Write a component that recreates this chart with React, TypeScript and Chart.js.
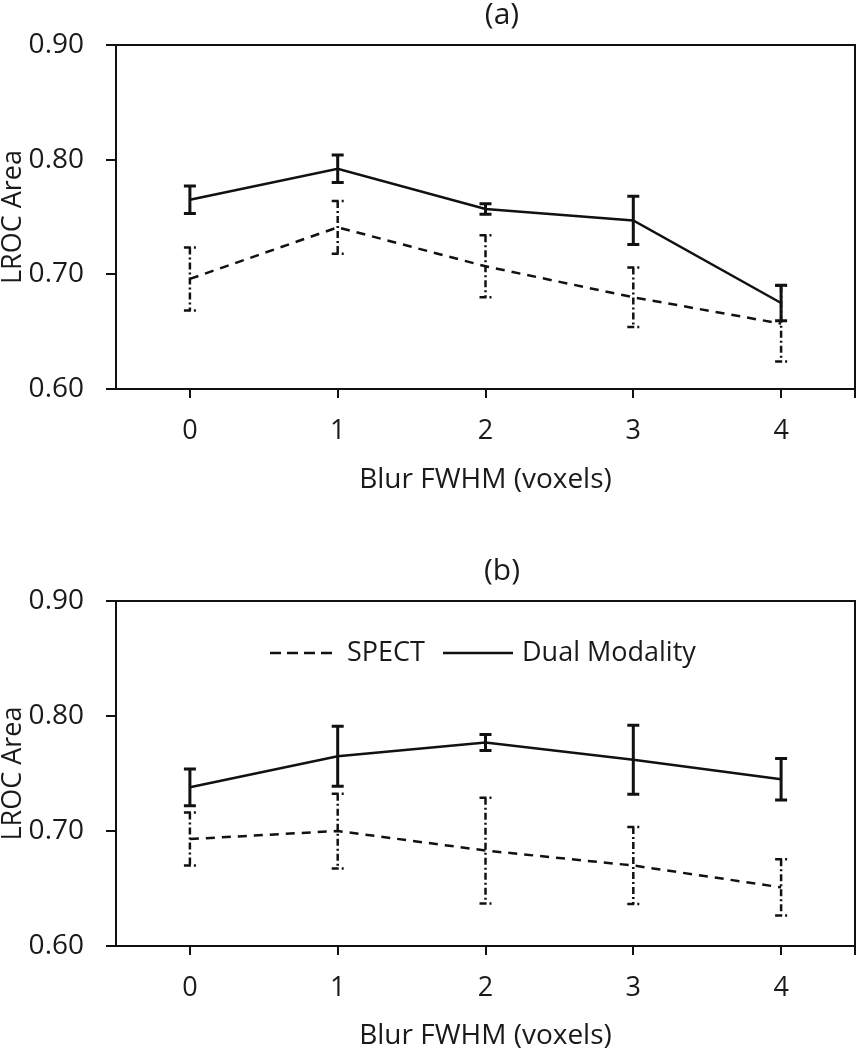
import React, { useEffect, useRef } from "react";
import { Chart, registerables } from "chart.js";

Chart.register(...registerables);

// ---- data ----
const blurLabels = ["0", "1", "2", "3", "4"];
const yTickValues = [0.6, 0.7, 0.8, 0.9];

const spectA = [0.696, 0.741, 0.707, 0.680, 0.657];
const spectAErr = [0.0275, 0.023, 0.027, 0.026, 0.033];
const dualA = [0.765, 0.792, 0.757, 0.747, 0.675];
const dualAErr = [0.012, 0.012, 0.0045, 0.021, 0.0155];

const spectB = [0.693, 0.700, 0.683, 0.670, 0.651];
const spectBErr = [0.023, 0.0325, 0.046, 0.0335, 0.0245];
const dualB = [0.738, 0.765, 0.777, 0.762, 0.745];
const dualBErr = [0.016, 0.026, 0.007, 0.030, 0.018];

const seriesNames = ["SPECT", "Dual Modality"];
const panelTitles = ["(a)", "(b)"];
const xTitle = "Blur FWHM (voxels)";
const yTitle = "LROC Area";

const FONT = "'Open Sans', 'Noto Sans', sans-serif";
const TEXT = "#1a1a1a";
const INK = "#111";

type Panel = {
  title: string;
  spect: number[];
  spectErr: number[];
  dual: number[];
  dualErr: number[];
  padTop: number;
  xHeight: number;
  showLegend: boolean;
  xTitlePadBottom: number;
};

function buildChart(canvas: HTMLCanvasElement, p: Panel) {
  const errs = [p.spectErr, p.dualErr];

  const decor = {
    id: "decor",
    beforeDatasetsDraw(chart: any) {
      const { ctx, chartArea } = chart;
      ctx.save();
      ctx.strokeStyle = INK;
      ctx.lineWidth = 2;
      ctx.setLineDash([]);
      ctx.strokeRect(chartArea.left, chartArea.top, chartArea.right - chartArea.left, chartArea.bottom - chartArea.top);
      ctx.beginPath();
      ctx.moveTo(chartArea.right, chartArea.bottom);
      ctx.lineTo(chartArea.right, chartArea.bottom + 9);
      ctx.stroke();
      ctx.restore();
    },
    afterDatasetsDraw(chart: any) {
      const { ctx, chartArea } = chart;
      const xs = chart.scales.x;
      const ys = chart.scales.y;
      ctx.save();
      [0, 1].forEach((di) => {
        const vals = chart.data.datasets[di].data as number[];
        const e = errs[di];
        const isDual = di === 1;
        ctx.strokeStyle = INK;
        ctx.lineWidth = isDual ? 3 : 2.5;
        ctx.setLineDash(isDual ? [] : [7, 3, 2, 3]);
        vals.forEach((v, i) => {
          const x = xs.getPixelForValue(i);
          const yt = ys.getPixelForValue(v + e[i]);
          const yb = ys.getPixelForValue(v - e[i]);
          const hw = 6;
          ctx.beginPath();
          ctx.moveTo(x, yt);
          ctx.lineTo(x, yb);
          ctx.moveTo(x - hw, yt);
          ctx.lineTo(x + hw, yt);
          ctx.moveTo(x - hw, yb);
          ctx.lineTo(x + hw, yb);
          ctx.stroke();
        });
      });
      ctx.setLineDash([]);
      ctx.fillStyle = TEXT;
      ctx.font = `30px ${FONT}`;
      ctx.textAlign = "center";
      ctx.textBaseline = "middle";
      ctx.fillText(p.title, 502, chartArea.top - 30);
      if (p.showLegend) {
        const ly = chartArea.top + 52;
        ctx.font = `27px ${FONT}`;
        ctx.textAlign = "left";
        ctx.lineWidth = 2.5;
        ctx.strokeStyle = INK;
        ctx.setLineDash([11, 6]);
        ctx.beginPath();
        ctx.moveTo(270, ly);
        ctx.lineTo(338, ly);
        ctx.stroke();
        ctx.fillText(seriesNames[0], 347, ly);
        ctx.setLineDash([]);
        ctx.beginPath();
        ctx.moveTo(443, ly);
        ctx.lineTo(513, ly);
        ctx.stroke();
        ctx.fillText(seriesNames[1], 522, ly);
      }
      ctx.restore();
    },
  };

  return new Chart(canvas, {
    type: "line",
    data: {
      labels: blurLabels,
      datasets: [
        {
          label: seriesNames[0],
          data: p.spect,
          borderColor: INK,
          borderWidth: 2.5,
          borderDash: [9, 7],
          pointRadius: 0,
          fill: false,
          tension: 0,
        },
        {
          label: seriesNames[1],
          data: p.dual,
          borderColor: INK,
          borderWidth: 2.5,
          pointRadius: 0,
          fill: false,
          tension: 0,
        },
      ],
    },
    options: {
      responsive: false,
      animation: false,
      devicePixelRatio: 1,
      layout: { padding: { top: p.padTop, right: 1, left: 0, bottom: 0 } },
      plugins: {
        legend: { display: false },
        title: { display: false },
        tooltip: { enabled: false },
      },
      scales: {
        x: {
          type: "category",
          offset: true,
          grid: {
            offset: false,
            drawOnChartArea: false,
            drawTicks: true,
            tickLength: 9,
            color: INK,
            lineWidth: 2,
          },
          border: { display: true, color: INK, width: 2 },
          ticks: {
            color: TEXT,
            font: { family: FONT, size: 27 },
            padding: 17,
            maxRotation: 0,
          },
          title: {
            display: true,
            text: xTitle,
            color: TEXT,
            font: { family: FONT, size: 28, lineHeight: 1 },
            padding: { top: 0, bottom: p.xTitlePadBottom },
          },
          afterFit: (s: any) => {
            s.height = p.xHeight;
          },
        },
        y: {
          min: 0.6,
          max: 0.9,
          afterBuildTicks: (s: any) => {
            s.ticks = yTickValues.map((v) => ({ value: v }));
          },
          grid: {
            drawOnChartArea: false,
            drawTicks: true,
            tickLength: 10,
            color: INK,
            lineWidth: 2,
          },
          border: { display: true, color: INK, width: 2 },
          ticks: {
            color: TEXT,
            font: { family: FONT, size: 28 },
            padding: 22,
            callback: (v: any) => Number(v).toFixed(2),
          },
          title: {
            display: true,
            text: yTitle,
            color: TEXT,
            font: { family: FONT, size: 27, lineHeight: 1 },
            padding: { top: 0, bottom: 0 },
          },
          afterFit: (s: any) => {
            s.width = 116;
          },
        },
      },
    },
    plugins: [decor],
  } as any);
}

function ChartPanel({ panel }: { panel: Panel }) {
  const ref = useRef<HTMLCanvasElement | null>(null);
  useEffect(() => {
    if (!ref.current) return;
    const c = buildChart(ref.current, panel);
    return () => c.destroy();
  }, [panel]);
  return (
    <div style={{ width: 856, height: 525, position: "relative" }}>
      <canvas ref={ref} width={856} height={525} style={{ display: "block" }} />
    </div>
  );
}

const panelA: Panel = {
  title: panelTitles[0],
  spect: spectA,
  spectErr: spectAErr,
  dual: dualA,
  dualErr: dualAErr,
  padTop: 45,
  xHeight: 136,
  showLegend: false,
  xTitlePadBottom: 31,
};

const panelB: Panel = {
  title: panelTitles[1],
  spect: spectB,
  spectErr: spectBErr,
  dual: dualB,
  dualErr: dualBErr,
  padTop: 76,
  xHeight: 104,
  showLegend: true,
  xTitlePadBottom: 0,
};

export default function App() {
  return (
    <div style={{ position: "absolute", left: 0, top: 0, width: 856, height: 1050, background: "#fff" }}>
      <ChartPanel panel={panelA} />
      <ChartPanel panel={panelB} />
    </div>
  );
}
